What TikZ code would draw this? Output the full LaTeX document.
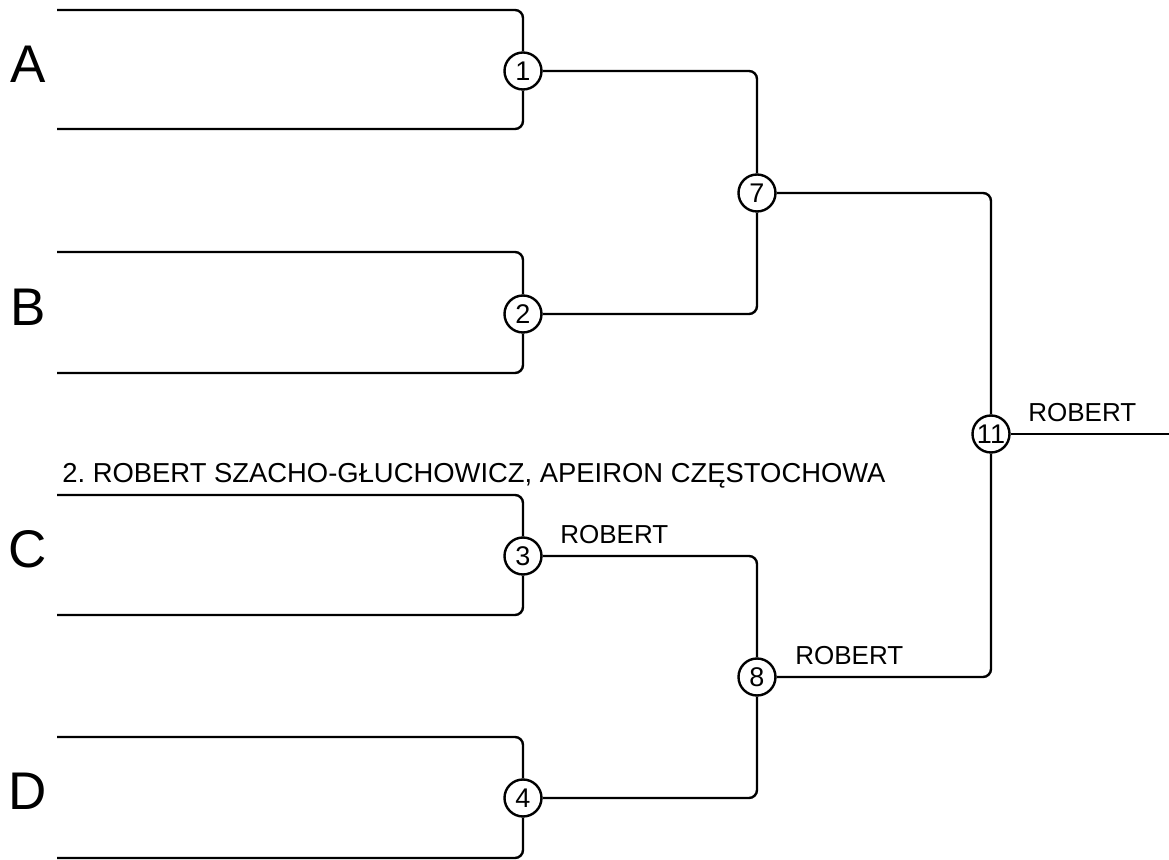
\documentclass[tikz,border=0pt]{standalone}
\usepackage{fontspec}
\setmainfont{Liberation Sans}
\usetikzlibrary{positioning}

\tikzset{
    game/.style={draw, circle, line width=1.2pt, minimum size=18.5pt, inner sep=0pt, fill=white, font=\fontsize{13.5}{15}\selectfont},
    link/.style={line width=1.2pt, rounded corners=4pt},
    seed/.style={anchor=base, font=\fontsize{26.5}{30}\selectfont},
    player/.style={anchor=base west, inner sep=0pt, font=\fontsize{13}{15}\selectfont}
}

\begin{document}
\begin{tikzpicture}[x=0.5pt, y=-0.5pt]
    \useasboundingbox (0,0) rectangle (1169,860);

    % Games
    \node [game] (g1) at (523, 71) {1};
    \node [game] (g2) at (523, 314) {2};
    \node [game] (g3) at (523, 556) {3};
    \node [game] (g4) at (523, 798) {4};
    \node [game] (g7) at (757, 193) {7};
    \node [game] (g8) at (757, 677) {8};
    \node [game] (g11) at (991, 434) {11};

    % Entry lines
    \coordinate (a1) at (57, 10);   \coordinate (a2) at (57, 129);
    \coordinate (b1) at (57, 252);  \coordinate (b2) at (57, 373);
    \coordinate (c1) at (57, 495);  \coordinate (c2) at (57, 615);
    \coordinate (d1) at (57, 737);  \coordinate (d2) at (57, 858);
    \coordinate (win) at (1169, 434);

    \draw [link] (a1) -| (g1);  \draw [link] (a2) -| (g1);
    \draw [link] (b1) -| (g2);  \draw [link] (b2) -| (g2);
    \draw [link] (c1) -| (g3);  \draw [link] (c2) -| (g3);
    \draw [link] (d1) -| (g4);  \draw [link] (d2) -| (g4);

    % Later rounds
    \draw [link] (g1) -| (g7);
    \draw [link] (g2) -| (g7);
    \draw [link] (g3) -| (g8);
    \draw [link] (g4) -| (g8);
    \draw [link] (g7) -| (g11);
    \draw [link] (g8) -| (g11);
    \draw [link] (g11) -- (win);

    % Groups
    \node [seed] (sA) at (28, 83) {A};
    \node [seed] (sB) at (28, 326) {B};
    \node [seed] (sC) at (28, 568) {C};
    \node [seed] (sD) at (28, 810) {D};

    % Names
    \node [player, font=\fontsize{13.7}{15}\selectfont] (p1) at (62, 483) {2.\ ROBERT SZACHO-GŁUCHOWICZ, APEIRON CZĘSTOCHOWA};
    \node [player] (p3) at (560, 544) {ROBERT};
    \node [player] (p8) at (795, 665) {ROBERT};
    \node [player] (p11) at (1028, 422) {ROBERT};
\end{tikzpicture}
\end{document}
